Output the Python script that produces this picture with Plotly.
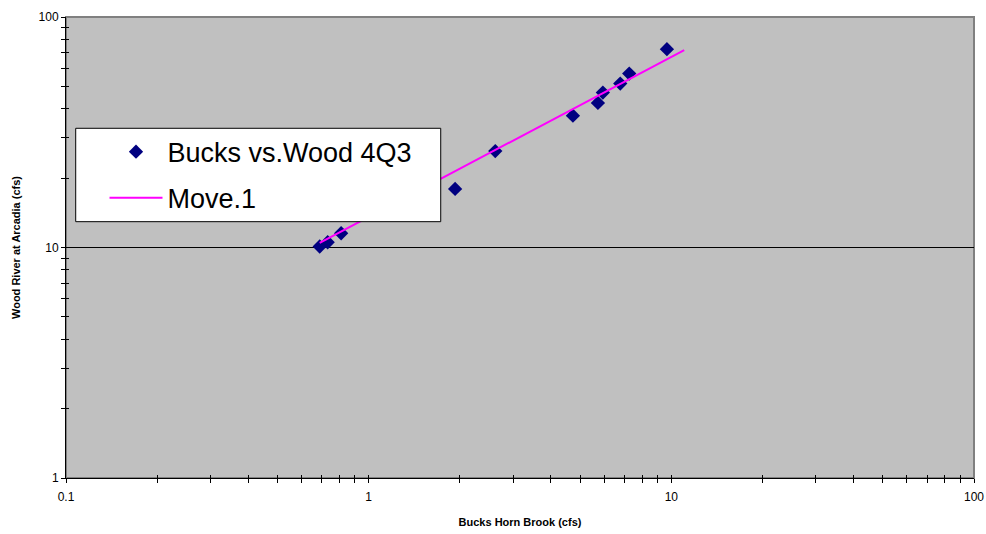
import plotly.graph_objects as go

# Observed data (Bucks Horn Brook vs Wood River at Arcadia, cfs)
bucks_cfs = [0.689, 0.732, 0.811, 1.93, 2.62, 4.73, 5.72, 5.94, 6.78, 7.26, 9.67]
wood_cfs = [10.1, 10.54, 11.53, 17.95, 26.2, 37.3, 42.4, 47.0, 51.4, 56.8, 72.5]

# MOVE.1 fitted line end points
move_x = [0.689, 11.03]
move_y = [10.47, 71.9]

# Tick positions / labels
x_tickvals = [m * 10 ** e for e in (-1, 0, 1) for m in range(1, 10)] + [100]
x_ticktext = [("0.1" if v == 0.1 else "1" if v == 1 else "10" if v == 10 else "100" if v == 100 else "") for v in x_tickvals]
y_tickvals = [m * 10 ** e for e in (0, 1) for m in range(1, 10)] + [100]
y_ticktext = [("1" if v == 1 else "10" if v == 10 else "100" if v == 100 else "") for v in y_tickvals]

FONT = "Arial, Liberation Sans, sans-serif"

fig = go.Figure()
# helper traces on overlay axes (invisible)
fig.add_trace(go.Scatter(x=[1], y=[10], xaxis="x2", yaxis="y", mode="markers",
                         marker=dict(opacity=0), showlegend=False, hoverinfo="skip"))
fig.add_trace(go.Scatter(x=[1], y=[10], xaxis="x", yaxis="y2", mode="markers",
                         marker=dict(opacity=0), showlegend=False, hoverinfo="skip"))
fig.add_trace(go.Scatter(x=[1], y=[10], xaxis="x", yaxis="y3", mode="markers",
                         marker=dict(opacity=0), showlegend=False, hoverinfo="skip"))
fig.add_trace(go.Scatter(
    x=bucks_cfs, y=wood_cfs, mode="markers", name="Bucks vs.Wood 4Q3",
    marker=dict(symbol="diamond", size=11, color="#000080"),
    legendgroup="a",
))
fig.add_trace(go.Scatter(
    x=move_x, y=move_y, mode="lines", name="Move.1",
    line=dict(color="#FF00FF", width=2),
    legendgroup="b",
))

axis_common = dict(type="log", showline=True, linecolor="black", linewidth=1,
                   tickcolor="black", tickwidth=1, zeroline=False, automargin=False,
                   tickfont=dict(family=FONT, size=12, color="black"))

fig.update_layout(
    width=986, height=534,
    margin=dict(l=66, r=12, t=17, b=56, autoexpand=False),
    paper_bgcolor="white", plot_bgcolor="#C0C0C0",
    font=dict(family=FONT, color="black"),
    xaxis=dict(**axis_common, range=[-1, 2], tickmode="array", tickvals=x_tickvals,
               ticktext=x_ticktext, ticks="outside", ticklen=4, showgrid=False,
               ticklabelstandoff=4,
               title=dict(text="<b>Bucks Horn Brook (cfs)</b>", font=dict(size=11, family=FONT), standoff=14)),
    xaxis2=dict(**axis_common, range=[-1, 2], overlaying="x", anchor="y", side="bottom",
                tickmode="array", tickvals=x_tickvals, ticks="inside", ticklen=3,
                showticklabels=False, showgrid=False),
    yaxis=dict(**axis_common, range=[0, 2], tickmode="array", tickvals=y_tickvals,
               ticktext=y_ticktext, ticks="outside", ticklen=4, showgrid=False,
               title=dict(text="<b>Wood River at Arcadia (cfs)</b>", font=dict(size=11, family=FONT), standoff=15)),
    yaxis2=dict(**axis_common, range=[0, 2], overlaying="y", anchor="x", side="left",
                tickmode="array", tickvals=y_tickvals,
                ticks="inside", ticklen=3, showticklabels=False,
                showgrid=False),
    yaxis3=dict(type="log", range=[0, 2], overlaying="y", anchor="x", side="left", automargin=False,
                tickmode="array", tickvals=[10], showticklabels=False, ticks="",
                showgrid=True, gridcolor="black", gridwidth=1, showline=False, zeroline=False),
    legend=dict(x=0.0424, y=0.760, xanchor="left", yanchor="top",
                bgcolor="rgba(0,0,0,0)", borderwidth=0,
                font=dict(family=FONT, size=27, color="black"),
                tracegroupgap=8, itemwidth=53),
    showlegend=True,
    shapes=[
        # plot frame (top/right grey)
        dict(type="rect", xref="paper", yref="paper", x0=0, x1=1, y0=0, y1=1,
             line=dict(color="#808080", width=2), layer="below"),
        # legend box
        dict(type="rect", xref="paper", yref="paper", x0=0.0107, x1=0.4127, y0=0.556, y1=0.7586,
             line=dict(color="black", width=1), fillcolor="white", layer="above"),
    ],
)

fig.write_html("out.html", config={"displayModeBar": False},
               post_script="document.body.style.margin='0';document.body.style.overflow='hidden';")
